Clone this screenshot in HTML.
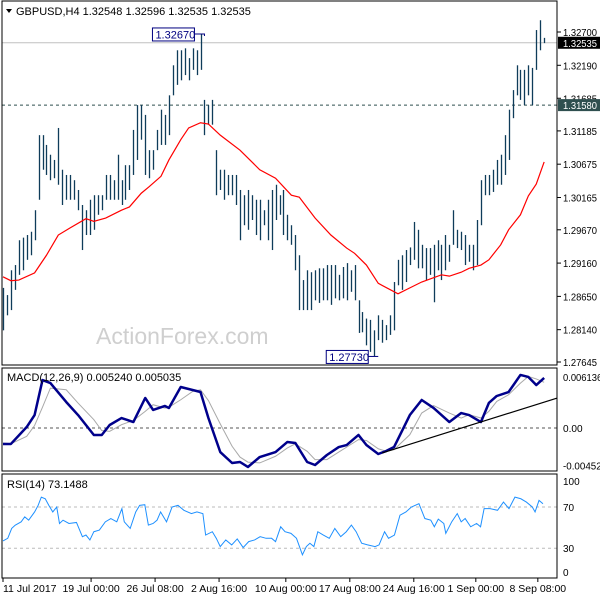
<!DOCTYPE html>
<html><head><meta charset="utf-8"><style>
html,body{margin:0;padding:0;background:#fff;}
svg{display:block;font-family:"Liberation Sans","DejaVu Sans",sans-serif;}
</style></head><body>
<svg id="chart" width="600" height="600" viewBox="0 0 600 600" xmlns="http://www.w3.org/2000/svg">
<rect x="0" y="0" width="600" height="600" fill="#fff"/>
<text x="96" y="344" font-size="23" fill="#cfcfcf">ActionForex.com</text>
<g id="main"></g>
<g id="macd"></g>
<g id="rsi"></g>
<g id="axes"></g>
<rect x="2" y="1" width="555" height="364" fill="none" stroke="#000"/>
<rect x="2" y="368" width="555" height="103" fill="none" stroke="#000"/>
<rect x="2" y="474" width="555" height="104" fill="none" stroke="#000"/>
<path d="M6 9 L12 9 L9 13 Z" fill="#000"/>
<text x="16" y="15" font-size="11" fill="#000">GBPUSD,H4  1.32548 1.32596 1.32535 1.32535</text>
<text x="7" y="381" font-size="11" fill="#000">MACD(12,26,9) 0.005240 0.005035</text>
<text x="7" y="488" font-size="11" fill="#000">RSI(14) 73.1488</text>
</svg>
<script>
const highs=[1.2878,1.2867,1.2905,1.2913,1.2951,1.2955,1.2959,1.2964,1.2997,1.3112,1.3112,1.3097,1.3082,1.3074,1.3123,1.3059,1.3051,1.3051,1.3043,1.3028,1.3005,1.2997,1.3013,1.3020,1.3020,1.3020,1.3051,1.3051,1.3043,1.3082,1.3043,1.3066,1.3066,1.3120,1.3158,1.3158,1.3143,1.3089,1.3089,1.3120,1.3151,1.3143,1.3173,1.3219,1.3242,1.3242,1.3245,1.3230,1.3245,1.3242,1.3267,1.3166,1.3158,1.3166,1.3089,1.3059,1.3059,1.3051,1.3051,1.3051,1.3028,1.3020,1.3028,1.3020,1.3013,1.3013,1.2997,1.3013,1.3028,1.3036,1.3020,1.3028,1.2990,1.2974,1.2959,1.2928,1.2890,1.2905,1.2902,1.2905,1.2908,1.2908,1.2913,1.2913,1.2913,1.2898,1.2910,1.2916,1.2905,1.2913,1.2859,1.2841,1.2831,1.2829,1.2813,1.2836,1.2829,1.2821,1.2836,1.2887,1.2921,1.2928,1.2936,1.2940,1.2979,1.2967,1.2944,1.2939,1.2939,1.2944,1.2951,1.2944,1.2959,1.2944,1.2997,1.2967,1.2964,1.2959,1.2944,1.2944,1.2982,1.3043,1.3051,1.3051,1.3059,1.3074,1.3082,1.3112,1.3151,1.3181,1.3219,1.3212,1.3212,1.3219,1.3215,1.3273,1.3288,1.3261];
const lows=[1.2813,1.2836,1.2844,1.2875,1.2898,1.2905,1.2921,1.2928,1.2951,1.3013,1.3059,1.3051,1.3043,1.3046,1.3036,1.3005,1.3013,1.3013,1.3013,1.2997,1.2936,1.2959,1.2959,1.2967,1.2990,1.2997,1.3013,1.3013,1.3013,1.3013,1.3005,1.3013,1.3028,1.3051,1.3074,1.3105,1.3051,1.3046,1.3059,1.3089,1.3097,1.3097,1.3112,1.3173,1.3189,1.3196,1.3204,1.3196,1.3212,1.3204,1.3212,1.3112,1.3128,1.3128,1.3020,1.3028,1.3013,1.3020,1.3020,1.3005,1.2951,1.2974,1.2967,1.2982,1.2959,1.2951,1.2974,1.2951,1.2936,1.2982,1.2990,1.2959,1.2951,1.2944,1.2905,1.2844,1.2844,1.2844,1.2844,1.2859,1.2855,1.2859,1.2859,1.2852,1.2862,1.2859,1.2862,1.2859,1.2872,1.2859,1.2809,1.2810,1.2790,1.2780,1.2773,1.2798,1.2794,1.2798,1.2806,1.2813,1.2882,1.2875,1.2887,1.2913,1.2921,1.2908,1.2908,1.2890,1.2898,1.2856,1.2905,1.2890,1.2905,1.2918,1.2944,1.2939,1.2936,1.2913,1.2918,1.2905,1.2913,1.2974,1.3020,1.3020,1.3025,1.3036,1.3036,1.3051,1.3074,1.3138,1.3173,1.3166,1.3158,1.3173,1.3158,1.3212,1.3242,1.3253];
const maIdx=[0,2,4,8,11,14,17,21,23,26,30,32,35,37,40,42,45,47,50,52,55,60,65,69,73,75,79,83,87,89,92,95,100,103,106,111,113,116,118,121,123,126,128,131,133,135,137];
const maVal=[1.2895,1.2889,1.2890,1.2901,1.2928,1.2959,1.2970,1.2984,1.2980,1.2985,1.2997,1.3002,1.3023,1.3033,1.3049,1.3074,1.3105,1.3123,1.3131,1.3129,1.3112,1.3089,1.3059,1.3046,1.3020,1.3017,1.2985,1.2959,1.2939,1.2931,1.2913,1.2885,1.2869,1.2878,1.2887,1.2898,1.2896,1.2902,1.2908,1.2913,1.2921,1.2944,1.2967,1.2990,1.3019,1.3037,1.3071];
const priceTicks=[1.32700,1.32190,1.31685,1.31185,1.30675,1.30165,1.29670,1.29160,1.28650,1.28140,1.27645];
const priceTickLabels=["1.32700","1.32190","1.31685","1.31185","1.30675","1.30165","1.29670","1.29160","1.28650","1.28140","1.27645"];
const lastPrice=1.32535, levelPrice=1.3158;
const highMark={idx:51,price:1.3267,label:"1.32670"}, lowMark={idx:95,price:1.2773,label:"1.27730"};
const macdIdx=[0,2,6,8,10,12,16,19,23,25,27,30,33,36,38,41,42,45,48,50,52,55,58,60,62,65,69,72,74,77,79,82,85,87,90,92,95,97,99,103,106,109,113,116,118,121,123,125,128,131,133,135,137];
const macdVal=[-1.92,-1.92,0.12,1.56,5.77,5.41,3.13,1.56,-0.84,-0.84,0.36,1.2,0.72,3.61,2.17,2.65,2.41,4.93,4.57,4.33,1.2,-2.89,-4.21,-4.09,-4.69,-3.49,-2.89,-1.68,-1.8,-4.09,-4.45,-3.25,-2.29,-2.05,-0.84,-2.05,-3.13,-2.77,-2.29,1.56,3.37,2.41,0.72,1.8,1.56,0.72,3.01,3.85,4.33,6.38,6.14,5.17,6.02];
const signalVal=[-1.8,-1.9,-1.0,0.3,2.5,4.8,4.6,3.0,1.0,-0.3,-0.4,0.4,0.9,2.0,2.8,2.4,2.5,3.4,4.4,4.6,3.3,0.5,-2.2,-3.5,-4.1,-4.2,-3.4,-2.4,-1.9,-2.8,-3.8,-3.8,-2.9,-2.3,-1.4,-1.5,-2.5,-2.8,-2.6,-0.8,1.8,2.7,1.8,1.2,1.6,1.2,2.0,3.2,4.0,5.4,6.2,5.9,5.5];
const trendIdx=[96,140.3], trendVal=[-3.0,3.6];
const macdTicks=[6.136,0,-4.529], macdTickLabels=["0.006136","0.00","-0.004529"];
const rsiIdx=[0,1.2,2.2,3.1,4.6,5.5,6.5,8,8.9,9.7,10.7,11.6,12.6,13.6,14.3,15.2,16.7,18.6,20.1,21,22,23,24.4,25.9,27.3,28.8,30.1,30.7,32.2,33.6,34.6,35.9,36.8,38,39,39.9,41.4,42.8,44.3,45.8,47.7,49.1,50.6,51.3,53,54,55,56.4,57.9,59.3,60.8,62.2,63.7,65.1,66.6,68,69,70.3,71.4,72.9,74.3,75.8,76.8,77.7,78.7,79.7,81.1,82.6,84,85.5,86.9,88.2,89.4,90.8,92.3,94.2,95.2,96.6,97.6,99.1,100.5,102,103.4,105.3,106.8,108.3,109.2,110.2,111.6,112.1,113.6,115,116,117,118.4,119.9,120.9,121.8,123.3,125.2,126.7,128.1,129.6,131.1,132.5,134,134.7,135.7,136.7];
const rsiVal=[37,39.6,49.2,52.4,55.6,60.4,57.2,65.2,71.6,79.6,78,71.6,65.2,70,54,57.2,54,55,41.2,42.8,38,46,47.6,55.6,58.8,55.6,68.4,55.6,49.2,65.2,71.6,72.2,52.4,54,57.2,65.2,55.6,70,71.6,66.8,63.6,65.2,63.6,42.8,46,39.6,31.6,38,33.2,39,30.6,36.4,38,41.2,39.6,39.6,36.4,50.8,46,44.4,39.6,23.6,31.6,34.8,31.6,46,42.8,39.6,49.2,41.2,46,52.4,46,34.8,33.2,31.6,33.2,46,39.6,42.8,62,65.2,70,73.2,58.8,57.2,50.8,58.2,54,44.4,55.6,63.6,55.6,58.8,50.8,54,50.8,68.4,68.4,66.8,74.8,68.4,79.6,78,74.8,70,65.2,76.4,73.2];
const rsiTicks=[100,70,30,0];
const dateLabels=["11 Jul 2017","19 Jul 00:00","26 Jul 08:00","2 Aug 16:00","10 Aug 00:00","17 Aug 08:00","24 Aug 16:00","1 Sep 00:00","8 Sep 08:00"];
const dateIdx=[0,22.3,38.5,54.7,71.6,87.8,104,119.7,135.4];

const NS="http://www.w3.org/2000/svg";
const X=i=>3+i*3.95;
const Y=p=>32+(1.327-p)*6528;
const YM=v=>428-v*8.312;
const YR=v=>507+(70-v)*1.03;
function mk(tag,attrs,parent){const e=document.createElementNS(NS,tag);for(const k in attrs)e.setAttribute(k,attrs[k]);parent.appendChild(e);return e;}
const main=document.getElementById('main'), mg=document.getElementById('macd'), rg=document.getElementById('rsi'), ax=document.getElementById('axes');

let e;
e=mk('line',{x1:2,x2:557,y1:Y(lastPrice),y2:Y(lastPrice),stroke:'#c0c0c0'},main);


e=mk('line',{x1:2,x2:557,y1:Y(levelPrice),y2:Y(levelPrice),stroke:'#2f4f4f','stroke-dasharray':'3,3'},main);


for(let i=0;i<highs.length;i++){
  const x=Math.round(X(i))+0.5;
  e=mk('line',{x1:x,x2:x,y1:Y(highs[i]),y2:Y(lows[i]),stroke:'#0f3c5a','stroke-width':1.3},main);
  
  
}
e=mk('polyline',{points:maIdx.map((d,i)=>X(d)+','+Y(maVal[i])).join(' '),fill:'none',stroke:'#f00','stroke-width':1.2},main);


[highMark,lowMark].forEach((m,k)=>{
  const bx=X(m.idx)-52, by=Y(m.price)-6;
  e=mk('polyline',{points:(bx+42)+','+Y(m.price)+' '+X(m.idx)+','+Y(m.price)+' '+X(m.idx)+','+(Y(m.price)+(k?0:2)),fill:'none',stroke:'#000080'},main);
  
  
  e=mk('rect',{x:bx,y:by,width:42,height:13,fill:'#fff',stroke:'#000080'},main);
  
  
  e=mk('text',{x:bx+3,y:by+10.5,'font-size':11,fill:'#000080'},main);
  e.textContent=m.label;
  
  
});
priceTicks.forEach((p,i)=>{
  e=mk('line',{x1:557,x2:561,y1:Y(p),y2:Y(p),stroke:'#000'},ax);
  
  
  e=mk('text',{x:563,y:Y(p)+4,'font-size':10,fill:'#000',textLength:34,lengthAdjust:'spacingAndGlyphs'},ax);
  e.textContent=priceTickLabels[i];
  
  
});
[[lastPrice,'#000','1.32535'],[levelPrice,'#2f4f4f','1.31580']].forEach((t,k)=>{
  e=mk('rect',{x:558,y:Y(t[0])-6,width:42,height:12,fill:t[1]},ax);
  
  
  e=mk('text',{x:563,y:Y(t[0])+4,'font-size':10,fill:'#fff',textLength:34,lengthAdjust:'spacingAndGlyphs'},ax);
  e.textContent=t[2];
  
  
});
// MACD
e=mk('line',{x1:2,x2:557,y1:YM(0),y2:YM(0),stroke:'#555','stroke-dasharray':'3,3'},mg);


e=mk('polyline',{points:macdIdx.map((d,i)=>X(d)+','+YM(signalVal[i])).join(' '),fill:'none',stroke:'#a9a9a9','stroke-width':1},mg);


e=mk('polyline',{points:macdIdx.map((d,i)=>X(d)+','+YM(macdVal[i])).join(' '),fill:'none',stroke:'#00008b','stroke-width':2.5,'stroke-linejoin':'round'},mg);


e=mk('line',{x1:X(trendIdx[0]),x2:X(trendIdx[1]),y1:YM(trendVal[0]),y2:YM(trendVal[1]),stroke:'#000','stroke-width':1.2},mg);


macdTicks.forEach((v,i)=>{
  const L=macdTickLabels[i].length;
  e=mk('text',{x:563,y:YM(v)+4,'font-size':10,fill:'#000',textLength:L*4.9,lengthAdjust:'spacingAndGlyphs'},ax);
  e.textContent=macdTickLabels[i];
  
  
});
// RSI
[70,30].forEach(v=>{
  e=mk('line',{x1:2,x2:557,y1:YR(v),y2:YR(v),stroke:'#bbb','stroke-dasharray':'3,3'},rg);
  
  
});
e=mk('polyline',{points:rsiIdx.map((d,i)=>X(d)+','+YR(rsiVal[i])).join(' '),fill:'none',stroke:'#1e90ff','stroke-width':1},rg);


rsiTicks.forEach(v=>{
  const y=v===100?481:(v===0?572:YR(v));
  e=mk('text',{x:563,y:y+4,'font-size':10,fill:'#000'},ax);
  e.textContent=String(v);
  
  
});
// dates
dateLabels.forEach((s,i)=>{
  const x=X(dateIdx[i]);
  e=mk('line',{x1:x,x2:x,y1:578,y2:582,stroke:'#000'},ax);
  
  
  e=mk('text',{x:i===0?3:x,y:592,'font-size':10.5,fill:'#000','text-anchor':i===0?'start':'middle'},ax);
  e.textContent=s;
  
  
});
</script>
</body></html>
